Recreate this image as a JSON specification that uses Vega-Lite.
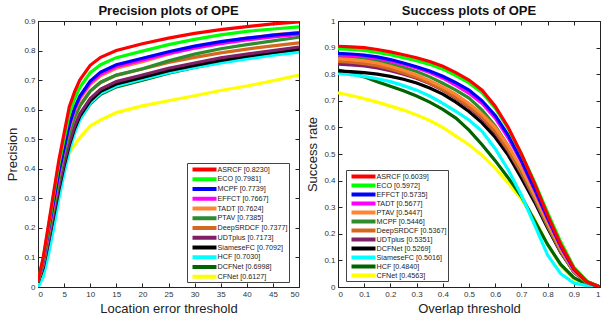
{
"$schema": "https://vega.github.io/schema/vega-lite/v6.json",
"padding": {"left": 6, "top": 5, "right": 0, "bottom": 0},
"spacing": 4,
"datasets": {
"prec": [
{"m":"CFNet [0.6127]","x":0,"y":0.0},{"m":"CFNet [0.6127]","x":1,"y":0.05},{"m":"CFNet [0.6127]","x":2,"y":0.16},{"m":"CFNet [0.6127]","x":3,"y":0.27},{"m":"CFNet [0.6127]","x":4,"y":0.35},{"m":"CFNet [0.6127]","x":5,"y":0.41},{"m":"CFNet [0.6127]","x":6,"y":0.455},{"m":"CFNet [0.6127]","x":7,"y":0.48},{"m":"CFNet [0.6127]","x":8,"y":0.505},{"m":"CFNet [0.6127]","x":10,"y":0.545},{"m":"CFNet [0.6127]","x":12,"y":0.565},{"m":"CFNet [0.6127]","x":15,"y":0.59},{"m":"CFNet [0.6127]","x":20,"y":0.6127},{"m":"CFNet [0.6127]","x":25,"y":0.63},{"m":"CFNet [0.6127]","x":30,"y":0.647},{"m":"CFNet [0.6127]","x":35,"y":0.665},{"m":"CFNet [0.6127]","x":40,"y":0.68},{"m":"CFNet [0.6127]","x":45,"y":0.698},{"m":"CFNet [0.6127]","x":50,"y":0.717},
{"m":"DCFNet [0.6998]","x":0,"y":0.02},{"m":"DCFNet [0.6998]","x":1,"y":0.07},{"m":"DCFNet [0.6998]","x":2,"y":0.155},{"m":"DCFNet [0.6998]","x":3,"y":0.245},{"m":"DCFNet [0.6998]","x":4,"y":0.335},{"m":"DCFNet [0.6998]","x":5,"y":0.41},{"m":"DCFNet [0.6998]","x":6,"y":0.475},{"m":"DCFNet [0.6998]","x":7,"y":0.528},{"m":"DCFNet [0.6998]","x":8,"y":0.568},{"m":"DCFNet [0.6998]","x":10,"y":0.62},{"m":"DCFNet [0.6998]","x":12,"y":0.652},{"m":"DCFNet [0.6998]","x":15,"y":0.677},{"m":"DCFNet [0.6998]","x":20,"y":0.6998},{"m":"DCFNet [0.6998]","x":25,"y":0.723},{"m":"DCFNet [0.6998]","x":30,"y":0.743},{"m":"DCFNet [0.6998]","x":35,"y":0.76},{"m":"DCFNet [0.6998]","x":40,"y":0.775},{"m":"DCFNet [0.6998]","x":45,"y":0.788},{"m":"DCFNet [0.6998]","x":50,"y":0.8},
{"m":"HCF [0.7030]","x":0,"y":0.0},{"m":"HCF [0.7030]","x":1,"y":0.035},{"m":"HCF [0.7030]","x":2,"y":0.11},{"m":"HCF [0.7030]","x":3,"y":0.2},{"m":"HCF [0.7030]","x":4,"y":0.3},{"m":"HCF [0.7030]","x":5,"y":0.385},{"m":"HCF [0.7030]","x":6,"y":0.46},{"m":"HCF [0.7030]","x":7,"y":0.52},{"m":"HCF [0.7030]","x":8,"y":0.565},{"m":"HCF [0.7030]","x":10,"y":0.622},{"m":"HCF [0.7030]","x":12,"y":0.655},{"m":"HCF [0.7030]","x":15,"y":0.68},{"m":"HCF [0.7030]","x":20,"y":0.703},{"m":"HCF [0.7030]","x":25,"y":0.725},{"m":"HCF [0.7030]","x":30,"y":0.743},{"m":"HCF [0.7030]","x":35,"y":0.758},{"m":"HCF [0.7030]","x":40,"y":0.772},{"m":"HCF [0.7030]","x":45,"y":0.784},{"m":"HCF [0.7030]","x":50,"y":0.795},
{"m":"SiameseFC [0.7092]","x":0,"y":0.015},{"m":"SiameseFC [0.7092]","x":1,"y":0.065},{"m":"SiameseFC [0.7092]","x":2,"y":0.15},{"m":"SiameseFC [0.7092]","x":3,"y":0.24},{"m":"SiameseFC [0.7092]","x":4,"y":0.33},{"m":"SiameseFC [0.7092]","x":5,"y":0.41},{"m":"SiameseFC [0.7092]","x":6,"y":0.48},{"m":"SiameseFC [0.7092]","x":7,"y":0.535},{"m":"SiameseFC [0.7092]","x":8,"y":0.577},{"m":"SiameseFC [0.7092]","x":10,"y":0.63},{"m":"SiameseFC [0.7092]","x":12,"y":0.662},{"m":"SiameseFC [0.7092]","x":15,"y":0.687},{"m":"SiameseFC [0.7092]","x":20,"y":0.7092},{"m":"SiameseFC [0.7092]","x":25,"y":0.732},{"m":"SiameseFC [0.7092]","x":30,"y":0.75},{"m":"SiameseFC [0.7092]","x":35,"y":0.767},{"m":"SiameseFC [0.7092]","x":40,"y":0.781},{"m":"SiameseFC [0.7092]","x":45,"y":0.794},{"m":"SiameseFC [0.7092]","x":50,"y":0.805},
{"m":"UDTplus [0.7173]","x":0,"y":0.02},{"m":"UDTplus [0.7173]","x":1,"y":0.07},{"m":"UDTplus [0.7173]","x":2,"y":0.155},{"m":"UDTplus [0.7173]","x":3,"y":0.25},{"m":"UDTplus [0.7173]","x":4,"y":0.34},{"m":"UDTplus [0.7173]","x":5,"y":0.42},{"m":"UDTplus [0.7173]","x":6,"y":0.49},{"m":"UDTplus [0.7173]","x":7,"y":0.545},{"m":"UDTplus [0.7173]","x":8,"y":0.585},{"m":"UDTplus [0.7173]","x":10,"y":0.638},{"m":"UDTplus [0.7173]","x":12,"y":0.67},{"m":"UDTplus [0.7173]","x":15,"y":0.695},{"m":"UDTplus [0.7173]","x":20,"y":0.7173},{"m":"UDTplus [0.7173]","x":25,"y":0.74},{"m":"UDTplus [0.7173]","x":30,"y":0.758},{"m":"UDTplus [0.7173]","x":35,"y":0.775},{"m":"UDTplus [0.7173]","x":40,"y":0.788},{"m":"UDTplus [0.7173]","x":45,"y":0.8},{"m":"UDTplus [0.7173]","x":50,"y":0.812},
{"m":"DeepSRDCF [0.7377]","x":0,"y":0.02},{"m":"DeepSRDCF [0.7377]","x":1,"y":0.08},{"m":"DeepSRDCF [0.7377]","x":2,"y":0.175},{"m":"DeepSRDCF [0.7377]","x":3,"y":0.27},{"m":"DeepSRDCF [0.7377]","x":4,"y":0.365},{"m":"DeepSRDCF [0.7377]","x":5,"y":0.45},{"m":"DeepSRDCF [0.7377]","x":6,"y":0.52},{"m":"DeepSRDCF [0.7377]","x":7,"y":0.573},{"m":"DeepSRDCF [0.7377]","x":8,"y":0.612},{"m":"DeepSRDCF [0.7377]","x":10,"y":0.662},{"m":"DeepSRDCF [0.7377]","x":12,"y":0.692},{"m":"DeepSRDCF [0.7377]","x":15,"y":0.716},{"m":"DeepSRDCF [0.7377]","x":20,"y":0.7377},{"m":"DeepSRDCF [0.7377]","x":25,"y":0.76},{"m":"DeepSRDCF [0.7377]","x":30,"y":0.777},{"m":"DeepSRDCF [0.7377]","x":35,"y":0.792},{"m":"DeepSRDCF [0.7377]","x":40,"y":0.805},{"m":"DeepSRDCF [0.7377]","x":45,"y":0.816},{"m":"DeepSRDCF [0.7377]","x":50,"y":0.826},
{"m":"PTAV [0.7385]","x":0,"y":0.02},{"m":"PTAV [0.7385]","x":1,"y":0.08},{"m":"PTAV [0.7385]","x":2,"y":0.175},{"m":"PTAV [0.7385]","x":3,"y":0.27},{"m":"PTAV [0.7385]","x":4,"y":0.365},{"m":"PTAV [0.7385]","x":5,"y":0.45},{"m":"PTAV [0.7385]","x":6,"y":0.52},{"m":"PTAV [0.7385]","x":7,"y":0.575},{"m":"PTAV [0.7385]","x":8,"y":0.613},{"m":"PTAV [0.7385]","x":10,"y":0.663},{"m":"PTAV [0.7385]","x":12,"y":0.693},{"m":"PTAV [0.7385]","x":15,"y":0.717},{"m":"PTAV [0.7385]","x":20,"y":0.7385},{"m":"PTAV [0.7385]","x":25,"y":0.765},{"m":"PTAV [0.7385]","x":30,"y":0.788},{"m":"PTAV [0.7385]","x":35,"y":0.806},{"m":"PTAV [0.7385]","x":40,"y":0.82},{"m":"PTAV [0.7385]","x":45,"y":0.833},{"m":"PTAV [0.7385]","x":50,"y":0.845},
{"m":"TADT [0.7624]","x":0,"y":0.02},{"m":"TADT [0.7624]","x":1,"y":0.085},{"m":"TADT [0.7624]","x":2,"y":0.18},{"m":"TADT [0.7624]","x":3,"y":0.28},{"m":"TADT [0.7624]","x":4,"y":0.38},{"m":"TADT [0.7624]","x":5,"y":0.465},{"m":"TADT [0.7624]","x":6,"y":0.54},{"m":"TADT [0.7624]","x":7,"y":0.595},{"m":"TADT [0.7624]","x":8,"y":0.635},{"m":"TADT [0.7624]","x":10,"y":0.685},{"m":"TADT [0.7624]","x":12,"y":0.715},{"m":"TADT [0.7624]","x":15,"y":0.74},{"m":"TADT [0.7624]","x":20,"y":0.762},{"m":"TADT [0.7624]","x":25,"y":0.788},{"m":"TADT [0.7624]","x":30,"y":0.81},{"m":"TADT [0.7624]","x":35,"y":0.828},{"m":"TADT [0.7624]","x":40,"y":0.842},{"m":"TADT [0.7624]","x":45,"y":0.853},{"m":"TADT [0.7624]","x":50,"y":0.862},
{"m":"EFFCT [0.7667]","x":0,"y":0.02},{"m":"EFFCT [0.7667]","x":1,"y":0.085},{"m":"EFFCT [0.7667]","x":2,"y":0.185},{"m":"EFFCT [0.7667]","x":3,"y":0.285},{"m":"EFFCT [0.7667]","x":4,"y":0.385},{"m":"EFFCT [0.7667]","x":5,"y":0.47},{"m":"EFFCT [0.7667]","x":6,"y":0.545},{"m":"EFFCT [0.7667]","x":7,"y":0.6},{"m":"EFFCT [0.7667]","x":8,"y":0.64},{"m":"EFFCT [0.7667]","x":10,"y":0.69},{"m":"EFFCT [0.7667]","x":12,"y":0.72},{"m":"EFFCT [0.7667]","x":15,"y":0.745},{"m":"EFFCT [0.7667]","x":20,"y":0.767},{"m":"EFFCT [0.7667]","x":25,"y":0.79},{"m":"EFFCT [0.7667]","x":30,"y":0.808},{"m":"EFFCT [0.7667]","x":35,"y":0.823},{"m":"EFFCT [0.7667]","x":40,"y":0.836},{"m":"EFFCT [0.7667]","x":45,"y":0.846},{"m":"EFFCT [0.7667]","x":50,"y":0.855},
{"m":"MCPF [0.7739]","x":0,"y":0.02},{"m":"MCPF [0.7739]","x":1,"y":0.09},{"m":"MCPF [0.7739]","x":2,"y":0.19},{"m":"MCPF [0.7739]","x":3,"y":0.29},{"m":"MCPF [0.7739]","x":4,"y":0.39},{"m":"MCPF [0.7739]","x":5,"y":0.47},{"m":"MCPF [0.7739]","x":6,"y":0.55},{"m":"MCPF [0.7739]","x":7,"y":0.605},{"m":"MCPF [0.7739]","x":8,"y":0.645},{"m":"MCPF [0.7739]","x":10,"y":0.697},{"m":"MCPF [0.7739]","x":12,"y":0.727},{"m":"MCPF [0.7739]","x":15,"y":0.752},{"m":"MCPF [0.7739]","x":20,"y":0.774},{"m":"MCPF [0.7739]","x":25,"y":0.796},{"m":"MCPF [0.7739]","x":30,"y":0.815},{"m":"MCPF [0.7739]","x":35,"y":0.83},{"m":"MCPF [0.7739]","x":40,"y":0.842},{"m":"MCPF [0.7739]","x":45,"y":0.852},{"m":"MCPF [0.7739]","x":50,"y":0.86},
{"m":"ECO [0.7981]","x":0,"y":0.02},{"m":"ECO [0.7981]","x":1,"y":0.095},{"m":"ECO [0.7981]","x":2,"y":0.2},{"m":"ECO [0.7981]","x":3,"y":0.31},{"m":"ECO [0.7981]","x":4,"y":0.415},{"m":"ECO [0.7981]","x":5,"y":0.5},{"m":"ECO [0.7981]","x":6,"y":0.585},{"m":"ECO [0.7981]","x":7,"y":0.635},{"m":"ECO [0.7981]","x":8,"y":0.675},{"m":"ECO [0.7981]","x":10,"y":0.725},{"m":"ECO [0.7981]","x":12,"y":0.752},{"m":"ECO [0.7981]","x":15,"y":0.776},{"m":"ECO [0.7981]","x":20,"y":0.798},{"m":"ECO [0.7981]","x":25,"y":0.82},{"m":"ECO [0.7981]","x":30,"y":0.838},{"m":"ECO [0.7981]","x":35,"y":0.853},{"m":"ECO [0.7981]","x":40,"y":0.865},{"m":"ECO [0.7981]","x":45,"y":0.873},{"m":"ECO [0.7981]","x":50,"y":0.88},
{"m":"ASRCF [0.8230]","x":0,"y":0.02},{"m":"ASRCF [0.8230]","x":1,"y":0.1},{"m":"ASRCF [0.8230]","x":2,"y":0.21},{"m":"ASRCF [0.8230]","x":3,"y":0.32},{"m":"ASRCF [0.8230]","x":4,"y":0.43},{"m":"ASRCF [0.8230]","x":5,"y":0.52},{"m":"ASRCF [0.8230]","x":6,"y":0.61},{"m":"ASRCF [0.8230]","x":7,"y":0.66},{"m":"ASRCF [0.8230]","x":8,"y":0.7},{"m":"ASRCF [0.8230]","x":10,"y":0.75},{"m":"ASRCF [0.8230]","x":12,"y":0.777},{"m":"ASRCF [0.8230]","x":15,"y":0.8},{"m":"ASRCF [0.8230]","x":20,"y":0.823},{"m":"ASRCF [0.8230]","x":25,"y":0.842},{"m":"ASRCF [0.8230]","x":30,"y":0.858},{"m":"ASRCF [0.8230]","x":35,"y":0.871},{"m":"ASRCF [0.8230]","x":40,"y":0.881},{"m":"ASRCF [0.8230]","x":45,"y":0.89},{"m":"ASRCF [0.8230]","x":50,"y":0.897}
],
"succ": [
{"m":"CFNet [0.4563]","x":0,"y":0.73},{"m":"CFNet [0.4563]","x":0.05,"y":0.72},{"m":"CFNet [0.4563]","x":0.1,"y":0.708},{"m":"CFNet [0.4563]","x":0.15,"y":0.695},{"m":"CFNet [0.4563]","x":0.2,"y":0.68},{"m":"CFNet [0.4563]","x":0.25,"y":0.665},{"m":"CFNet [0.4563]","x":0.3,"y":0.647},{"m":"CFNet [0.4563]","x":0.35,"y":0.626},{"m":"CFNet [0.4563]","x":0.4,"y":0.6},{"m":"CFNet [0.4563]","x":0.45,"y":0.567},{"m":"CFNet [0.4563]","x":0.5,"y":0.535},{"m":"CFNet [0.4563]","x":0.55,"y":0.495},{"m":"CFNet [0.4563]","x":0.6,"y":0.447},{"m":"CFNet [0.4563]","x":0.65,"y":0.39},{"m":"CFNet [0.4563]","x":0.7,"y":0.33},{"m":"CFNet [0.4563]","x":0.75,"y":0.255},{"m":"CFNet [0.4563]","x":0.8,"y":0.16},{"m":"CFNet [0.4563]","x":0.85,"y":0.08},{"m":"CFNet [0.4563]","x":0.9,"y":0.03},{"m":"CFNet [0.4563]","x":0.95,"y":0.01},{"m":"CFNet [0.4563]","x":1,"y":0.0},
{"m":"HCF [0.4840]","x":0,"y":0.816},{"m":"HCF [0.4840]","x":0.05,"y":0.805},{"m":"HCF [0.4840]","x":0.1,"y":0.79},{"m":"HCF [0.4840]","x":0.15,"y":0.772},{"m":"HCF [0.4840]","x":0.2,"y":0.755},{"m":"HCF [0.4840]","x":0.25,"y":0.738},{"m":"HCF [0.4840]","x":0.3,"y":0.718},{"m":"HCF [0.4840]","x":0.35,"y":0.695},{"m":"HCF [0.4840]","x":0.4,"y":0.668},{"m":"HCF [0.4840]","x":0.45,"y":0.635},{"m":"HCF [0.4840]","x":0.5,"y":0.59},{"m":"HCF [0.4840]","x":0.55,"y":0.535},{"m":"HCF [0.4840]","x":0.6,"y":0.475},{"m":"HCF [0.4840]","x":0.65,"y":0.41},{"m":"HCF [0.4840]","x":0.7,"y":0.34},{"m":"HCF [0.4840]","x":0.75,"y":0.25},{"m":"HCF [0.4840]","x":0.8,"y":0.16},{"m":"HCF [0.4840]","x":0.85,"y":0.085},{"m":"HCF [0.4840]","x":0.9,"y":0.035},{"m":"HCF [0.4840]","x":0.95,"y":0.01},{"m":"HCF [0.4840]","x":1,"y":0.0},
{"m":"SiameseFC [0.5016]","x":0,"y":0.803},{"m":"SiameseFC [0.5016]","x":0.05,"y":0.798},{"m":"SiameseFC [0.5016]","x":0.1,"y":0.792},{"m":"SiameseFC [0.5016]","x":0.15,"y":0.783},{"m":"SiameseFC [0.5016]","x":0.2,"y":0.772},{"m":"SiameseFC [0.5016]","x":0.25,"y":0.757},{"m":"SiameseFC [0.5016]","x":0.3,"y":0.74},{"m":"SiameseFC [0.5016]","x":0.35,"y":0.718},{"m":"SiameseFC [0.5016]","x":0.4,"y":0.69},{"m":"SiameseFC [0.5016]","x":0.45,"y":0.66},{"m":"SiameseFC [0.5016]","x":0.5,"y":0.628},{"m":"SiameseFC [0.5016]","x":0.55,"y":0.585},{"m":"SiameseFC [0.5016]","x":0.6,"y":0.52},{"m":"SiameseFC [0.5016]","x":0.65,"y":0.44},{"m":"SiameseFC [0.5016]","x":0.7,"y":0.345},{"m":"SiameseFC [0.5016]","x":0.75,"y":0.235},{"m":"SiameseFC [0.5016]","x":0.8,"y":0.12},{"m":"SiameseFC [0.5016]","x":0.85,"y":0.05},{"m":"SiameseFC [0.5016]","x":0.9,"y":0.015},{"m":"SiameseFC [0.5016]","x":0.95,"y":0.005},{"m":"SiameseFC [0.5016]","x":1,"y":0.0},
{"m":"DCFNet [0.5269]","x":0,"y":0.812},{"m":"DCFNet [0.5269]","x":0.05,"y":0.81},{"m":"DCFNet [0.5269]","x":0.1,"y":0.806},{"m":"DCFNet [0.5269]","x":0.15,"y":0.8},{"m":"DCFNet [0.5269]","x":0.2,"y":0.792},{"m":"DCFNet [0.5269]","x":0.25,"y":0.781},{"m":"DCFNet [0.5269]","x":0.3,"y":0.767},{"m":"DCFNet [0.5269]","x":0.35,"y":0.748},{"m":"DCFNet [0.5269]","x":0.4,"y":0.725},{"m":"DCFNet [0.5269]","x":0.45,"y":0.695},{"m":"DCFNet [0.5269]","x":0.5,"y":0.66},{"m":"DCFNet [0.5269]","x":0.55,"y":0.617},{"m":"DCFNet [0.5269]","x":0.6,"y":0.563},{"m":"DCFNet [0.5269]","x":0.65,"y":0.495},{"m":"DCFNet [0.5269]","x":0.7,"y":0.41},{"m":"DCFNet [0.5269]","x":0.75,"y":0.32},{"m":"DCFNet [0.5269]","x":0.8,"y":0.222},{"m":"DCFNet [0.5269]","x":0.85,"y":0.13},{"m":"DCFNet [0.5269]","x":0.9,"y":0.06},{"m":"DCFNet [0.5269]","x":0.95,"y":0.02},{"m":"DCFNet [0.5269]","x":1,"y":0.0},
{"m":"UDTplus [0.5351]","x":0,"y":0.838},{"m":"UDTplus [0.5351]","x":0.05,"y":0.835},{"m":"UDTplus [0.5351]","x":0.1,"y":0.831},{"m":"UDTplus [0.5351]","x":0.15,"y":0.824},{"m":"UDTplus [0.5351]","x":0.2,"y":0.813},{"m":"UDTplus [0.5351]","x":0.25,"y":0.8},{"m":"UDTplus [0.5351]","x":0.3,"y":0.785},{"m":"UDTplus [0.5351]","x":0.35,"y":0.765},{"m":"UDTplus [0.5351]","x":0.4,"y":0.74},{"m":"UDTplus [0.5351]","x":0.45,"y":0.71},{"m":"UDTplus [0.5351]","x":0.5,"y":0.675},{"m":"UDTplus [0.5351]","x":0.55,"y":0.633},{"m":"UDTplus [0.5351]","x":0.6,"y":0.58},{"m":"UDTplus [0.5351]","x":0.65,"y":0.51},{"m":"UDTplus [0.5351]","x":0.7,"y":0.425},{"m":"UDTplus [0.5351]","x":0.75,"y":0.33},{"m":"UDTplus [0.5351]","x":0.8,"y":0.228},{"m":"UDTplus [0.5351]","x":0.85,"y":0.133},{"m":"UDTplus [0.5351]","x":0.9,"y":0.056},{"m":"UDTplus [0.5351]","x":0.95,"y":0.017},{"m":"UDTplus [0.5351]","x":1,"y":0.0},
{"m":"DeepSRDCF [0.5367]","x":0,"y":0.848},{"m":"DeepSRDCF [0.5367]","x":0.05,"y":0.845},{"m":"DeepSRDCF [0.5367]","x":0.1,"y":0.84},{"m":"DeepSRDCF [0.5367]","x":0.15,"y":0.832},{"m":"DeepSRDCF [0.5367]","x":0.2,"y":0.82},{"m":"DeepSRDCF [0.5367]","x":0.25,"y":0.805},{"m":"DeepSRDCF [0.5367]","x":0.3,"y":0.788},{"m":"DeepSRDCF [0.5367]","x":0.35,"y":0.767},{"m":"DeepSRDCF [0.5367]","x":0.4,"y":0.742},{"m":"DeepSRDCF [0.5367]","x":0.45,"y":0.713},{"m":"DeepSRDCF [0.5367]","x":0.5,"y":0.678},{"m":"DeepSRDCF [0.5367]","x":0.55,"y":0.638},{"m":"DeepSRDCF [0.5367]","x":0.6,"y":0.585},{"m":"DeepSRDCF [0.5367]","x":0.65,"y":0.515},{"m":"DeepSRDCF [0.5367]","x":0.7,"y":0.43},{"m":"DeepSRDCF [0.5367]","x":0.75,"y":0.335},{"m":"DeepSRDCF [0.5367]","x":0.8,"y":0.23},{"m":"DeepSRDCF [0.5367]","x":0.85,"y":0.135},{"m":"DeepSRDCF [0.5367]","x":0.9,"y":0.057},{"m":"DeepSRDCF [0.5367]","x":0.95,"y":0.017},{"m":"DeepSRDCF [0.5367]","x":1,"y":0.0},
{"m":"MCPF [0.5446]","x":0,"y":0.868},{"m":"MCPF [0.5446]","x":0.05,"y":0.865},{"m":"MCPF [0.5446]","x":0.1,"y":0.86},{"m":"MCPF [0.5446]","x":0.15,"y":0.851},{"m":"MCPF [0.5446]","x":0.2,"y":0.839},{"m":"MCPF [0.5446]","x":0.25,"y":0.825},{"m":"MCPF [0.5446]","x":0.3,"y":0.81},{"m":"MCPF [0.5446]","x":0.35,"y":0.79},{"m":"MCPF [0.5446]","x":0.4,"y":0.766},{"m":"MCPF [0.5446]","x":0.45,"y":0.74},{"m":"MCPF [0.5446]","x":0.5,"y":0.71},{"m":"MCPF [0.5446]","x":0.55,"y":0.665},{"m":"MCPF [0.5446]","x":0.6,"y":0.605},{"m":"MCPF [0.5446]","x":0.65,"y":0.53},{"m":"MCPF [0.5446]","x":0.7,"y":0.44},{"m":"MCPF [0.5446]","x":0.75,"y":0.34},{"m":"MCPF [0.5446]","x":0.8,"y":0.235},{"m":"MCPF [0.5446]","x":0.85,"y":0.135},{"m":"MCPF [0.5446]","x":0.9,"y":0.058},{"m":"MCPF [0.5446]","x":0.95,"y":0.017},{"m":"MCPF [0.5446]","x":1,"y":0.0},
{"m":"PTAV [0.5447]","x":0,"y":0.858},{"m":"PTAV [0.5447]","x":0.05,"y":0.855},{"m":"PTAV [0.5447]","x":0.1,"y":0.85},{"m":"PTAV [0.5447]","x":0.15,"y":0.842},{"m":"PTAV [0.5447]","x":0.2,"y":0.83},{"m":"PTAV [0.5447]","x":0.25,"y":0.815},{"m":"PTAV [0.5447]","x":0.3,"y":0.797},{"m":"PTAV [0.5447]","x":0.35,"y":0.776},{"m":"PTAV [0.5447]","x":0.4,"y":0.752},{"m":"PTAV [0.5447]","x":0.45,"y":0.724},{"m":"PTAV [0.5447]","x":0.5,"y":0.69},{"m":"PTAV [0.5447]","x":0.55,"y":0.65},{"m":"PTAV [0.5447]","x":0.6,"y":0.6},{"m":"PTAV [0.5447]","x":0.65,"y":0.53},{"m":"PTAV [0.5447]","x":0.7,"y":0.445},{"m":"PTAV [0.5447]","x":0.75,"y":0.345},{"m":"PTAV [0.5447]","x":0.8,"y":0.24},{"m":"PTAV [0.5447]","x":0.85,"y":0.14},{"m":"PTAV [0.5447]","x":0.9,"y":0.06},{"m":"PTAV [0.5447]","x":0.95,"y":0.018},{"m":"PTAV [0.5447]","x":1,"y":0.0},
{"m":"TADT [0.5677]","x":0,"y":0.873},{"m":"TADT [0.5677]","x":0.05,"y":0.871},{"m":"TADT [0.5677]","x":0.1,"y":0.867},{"m":"TADT [0.5677]","x":0.15,"y":0.86},{"m":"TADT [0.5677]","x":0.2,"y":0.85},{"m":"TADT [0.5677]","x":0.25,"y":0.837},{"m":"TADT [0.5677]","x":0.3,"y":0.823},{"m":"TADT [0.5677]","x":0.35,"y":0.806},{"m":"TADT [0.5677]","x":0.4,"y":0.785},{"m":"TADT [0.5677]","x":0.45,"y":0.758},{"m":"TADT [0.5677]","x":0.5,"y":0.728},{"m":"TADT [0.5677]","x":0.55,"y":0.69},{"m":"TADT [0.5677]","x":0.6,"y":0.635},{"m":"TADT [0.5677]","x":0.65,"y":0.56},{"m":"TADT [0.5677]","x":0.7,"y":0.47},{"m":"TADT [0.5677]","x":0.75,"y":0.365},{"m":"TADT [0.5677]","x":0.8,"y":0.255},{"m":"TADT [0.5677]","x":0.85,"y":0.15},{"m":"TADT [0.5677]","x":0.9,"y":0.065},{"m":"TADT [0.5677]","x":0.95,"y":0.02},{"m":"TADT [0.5677]","x":1,"y":0.0},
{"m":"EFFCT [0.5735]","x":0,"y":0.878},{"m":"EFFCT [0.5735]","x":0.05,"y":0.876},{"m":"EFFCT [0.5735]","x":0.1,"y":0.872},{"m":"EFFCT [0.5735]","x":0.15,"y":0.865},{"m":"EFFCT [0.5735]","x":0.2,"y":0.855},{"m":"EFFCT [0.5735]","x":0.25,"y":0.842},{"m":"EFFCT [0.5735]","x":0.3,"y":0.828},{"m":"EFFCT [0.5735]","x":0.35,"y":0.812},{"m":"EFFCT [0.5735]","x":0.4,"y":0.792},{"m":"EFFCT [0.5735]","x":0.45,"y":0.768},{"m":"EFFCT [0.5735]","x":0.5,"y":0.74},{"m":"EFFCT [0.5735]","x":0.55,"y":0.7},{"m":"EFFCT [0.5735]","x":0.6,"y":0.645},{"m":"EFFCT [0.5735]","x":0.65,"y":0.57},{"m":"EFFCT [0.5735]","x":0.7,"y":0.475},{"m":"EFFCT [0.5735]","x":0.75,"y":0.37},{"m":"EFFCT [0.5735]","x":0.8,"y":0.26},{"m":"EFFCT [0.5735]","x":0.85,"y":0.155},{"m":"EFFCT [0.5735]","x":0.9,"y":0.068},{"m":"EFFCT [0.5735]","x":0.95,"y":0.02},{"m":"EFFCT [0.5735]","x":1,"y":0.0},
{"m":"ECO [0.5972]","x":0,"y":0.895},{"m":"ECO [0.5972]","x":0.05,"y":0.893},{"m":"ECO [0.5972]","x":0.1,"y":0.889},{"m":"ECO [0.5972]","x":0.15,"y":0.882},{"m":"ECO [0.5972]","x":0.2,"y":0.873},{"m":"ECO [0.5972]","x":0.25,"y":0.862},{"m":"ECO [0.5972]","x":0.3,"y":0.851},{"m":"ECO [0.5972]","x":0.35,"y":0.837},{"m":"ECO [0.5972]","x":0.4,"y":0.819},{"m":"ECO [0.5972]","x":0.45,"y":0.795},{"m":"ECO [0.5972]","x":0.5,"y":0.767},{"m":"ECO [0.5972]","x":0.55,"y":0.73},{"m":"ECO [0.5972]","x":0.6,"y":0.672},{"m":"ECO [0.5972]","x":0.65,"y":0.595},{"m":"ECO [0.5972]","x":0.7,"y":0.5},{"m":"ECO [0.5972]","x":0.75,"y":0.395},{"m":"ECO [0.5972]","x":0.8,"y":0.28},{"m":"ECO [0.5972]","x":0.85,"y":0.17},{"m":"ECO [0.5972]","x":0.9,"y":0.075},{"m":"ECO [0.5972]","x":0.95,"y":0.022},{"m":"ECO [0.5972]","x":1,"y":0.0},
{"m":"ASRCF [0.6039]","x":0,"y":0.905},{"m":"ASRCF [0.6039]","x":0.05,"y":0.903},{"m":"ASRCF [0.6039]","x":0.1,"y":0.9},{"m":"ASRCF [0.6039]","x":0.15,"y":0.893},{"m":"ASRCF [0.6039]","x":0.2,"y":0.884},{"m":"ASRCF [0.6039]","x":0.25,"y":0.873},{"m":"ASRCF [0.6039]","x":0.3,"y":0.862},{"m":"ASRCF [0.6039]","x":0.35,"y":0.848},{"m":"ASRCF [0.6039]","x":0.4,"y":0.83},{"m":"ASRCF [0.6039]","x":0.45,"y":0.806},{"m":"ASRCF [0.6039]","x":0.5,"y":0.778},{"m":"ASRCF [0.6039]","x":0.55,"y":0.74},{"m":"ASRCF [0.6039]","x":0.6,"y":0.68},{"m":"ASRCF [0.6039]","x":0.65,"y":0.6},{"m":"ASRCF [0.6039]","x":0.7,"y":0.5},{"m":"ASRCF [0.6039]","x":0.75,"y":0.39},{"m":"ASRCF [0.6039]","x":0.8,"y":0.27},{"m":"ASRCF [0.6039]","x":0.85,"y":0.16},{"m":"ASRCF [0.6039]","x":0.9,"y":0.07},{"m":"ASRCF [0.6039]","x":0.95,"y":0.02},{"m":"ASRCF [0.6039]","x":1,"y":0.0}
]
},
"hconcat": [
{
"width": 261, "height": 266,
"title": {"text": "Precision plots of OPE"},
"data": {"name": "prec"},
"layer": [
{"mark": {"type": "line", "strokeWidth": 3.2, "clip": true},
 "encoding": {
  "x": {"field": "x", "type": "quantitative", "scale": {"domain": [0, 50], "nice": false}, "axis": {"title": "Location error threshold", "values": [0,5,10,15,20,25,30,35,40,45,50], "format": "~g"}},
  "y": {"field": "y", "type": "quantitative", "scale": {"domain": [0, 0.9], "nice": false}, "axis": {"title": "Precision", "values": [0,0.1,0.2,0.3,0.4,0.5,0.6,0.7,0.8,0.9], "format": "~g"}},
  "color": {"field": "m", "type": "nominal", "sort": null,
   "scale": {"domain": ["ASRCF [0.8230]","ECO [0.7981]","MCPF [0.7739]","EFFCT [0.7667]","TADT [0.7624]","PTAV [0.7385]","DeepSRDCF [0.7377]","UDTplus [0.7173]","SiameseFC [0.7092]","HCF [0.7030]","DCFNet [0.6998]","CFNet [0.6127]"],
    "range": ["#ff0000","#00ff00","#0000ff","#ff00ff","#ff8533","#2e8b2e","#d2691e","#7f1f66","#000000","#00ffff","#006400","#ffff00"]},
   "legend": {"title": null, "orient": "none", "legendX": 149, "legendY": 142, "rowPadding": 0.75,
     "encode": {"symbols": {"update": {"strokeJoin": {"value": "round"}}}}}}
 }},
{"mark": {"type": "point", "opacity": 0},
 "encoding": {
  "x": {"field": "x", "type": "quantitative", "axis": {"orient": "top", "labels": false, "title": null, "values": [0,5,10,15,20,25,30,35,40,45,50]}},
  "y": {"field": "y", "type": "quantitative", "axis": {"orient": "right", "labels": false, "title": null, "values": [0,0.1,0.2,0.3,0.4,0.5,0.6,0.7,0.8,0.9]}}
 }}
],
"resolve": {"axis": {"x": "independent", "y": "independent"}}
},
{
"width": 262, "height": 266,
"title": {"text": "Success plots of OPE"},
"data": {"name": "succ"},
"layer": [
{"mark": {"type": "line", "strokeWidth": 3.2, "clip": true},
 "encoding": {
  "x": {"field": "x", "type": "quantitative", "scale": {"domain": [0, 1], "nice": false}, "axis": {"title": "Overlap threshold", "values": [0,0.1,0.2,0.3,0.4,0.5,0.6,0.7,0.8,0.9,1], "format": "~g"}},
  "y": {"field": "y", "type": "quantitative", "scale": {"domain": [0, 1], "nice": false}, "axis": {"title": "Success rate", "values": [0,0.1,0.2,0.3,0.4,0.5,0.6,0.7,0.8,0.9,1], "format": "~g"}},
  "color": {"field": "m", "type": "nominal", "sort": null,
   "scale": {"domain": ["ASRCF [0.6039]","ECO [0.5972]","EFFCT [0.5735]","TADT [0.5677]","PTAV [0.5447]","MCPF [0.5446]","DeepSRDCF [0.5367]","UDTplus [0.5351]","DCFNet [0.5269]","SiameseFC [0.5016]","HCF [0.4840]","CFNet [0.4563]"],
    "range": ["#ff0000","#00ff00","#0000ff","#ff00ff","#ff8533","#2e8b2e","#d2691e","#7f1f66","#000000","#00ffff","#006400","#ffff00"]},
   "legend": {"title": null, "orient": "none", "legendX": 8, "legendY": 149, "rowPadding": 0,
     "encode": {"symbols": {"update": {"strokeJoin": {"value": "round"}}}}}}
 }},
{"mark": {"type": "point", "opacity": 0},
 "encoding": {
  "x": {"field": "x", "type": "quantitative", "axis": {"orient": "top", "labels": false, "title": null, "values": [0,0.1,0.2,0.3,0.4,0.5,0.6,0.7,0.8,0.9,1]}},
  "y": {"field": "y", "type": "quantitative", "axis": {"orient": "right", "labels": false, "title": null, "values": [0,0.1,0.2,0.3,0.4,0.5,0.6,0.7,0.8,0.9,1]}}
 }}
],
"resolve": {"axis": {"x": "independent", "y": "independent"}}
}
],
"resolve": {"scale": {"color": "independent"}},
"config": {
 "font": "Liberation Sans",
 "view": {"stroke": null},
 "axis": {"grid": false, "domainColor": "#222222", "tickColor": "#222222", "labelColor": "#333333", "labelFontSize": 8, "titleFontSize": 13, "titleFontWeight": "normal", "titleColor": "#222222", "tickSize": -4, "labelPadding": 7, "titlePadding": 4},
 "title": {"fontSize": 13, "fontWeight": "bold", "offset": -1, "color": "#111111"},
 "legend": {"fillColor": "#ffffff", "strokeColor": "#444444", "padding": 1.5, "labelFontSize": 7.2, "labelColor": "#222222", "symbolType": "M-4,0H4", "symbolStrokeWidth": 4, "symbolSize": 36, "symbolOffset": 11, "labelOffset": 8}
}
}
